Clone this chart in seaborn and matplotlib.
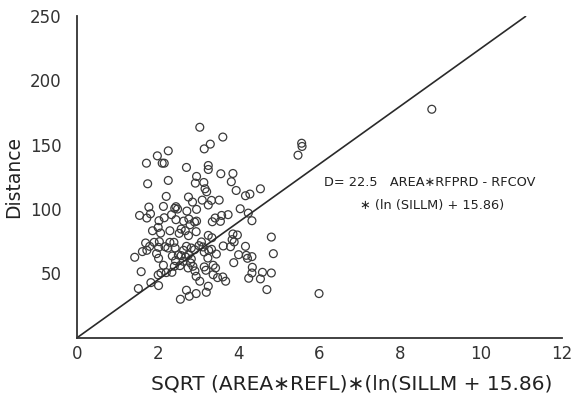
import matplotlib
matplotlib.use("Agg")
import matplotlib.pyplot as plt
import seaborn as sns
import pandas as pd

# ---- data ----
x_vals = [
    3.04, 3.61, 3.30, 3.15, 2.26, 1.99, 2.11, 2.16, 1.72, 2.71, 3.25, 3.25, 2.26, 1.75,
    3.56, 3.86, 3.82, 3.14, 2.96, 2.93, 3.17, 3.21, 3.94, 4.17, 4.28, 4.54, 5.47, 5.56,
    5.57, 8.78, 5.99,
    2.21, 2.76, 2.86, 3.10, 3.33, 3.52, 3.25, 2.96, 2.45, 2.14, 1.78, 1.55, 1.73, 1.82,
    2.42, 2.49, 2.72, 2.34, 2.16, 2.45, 2.64, 2.77, 2.91, 2.96, 2.80, 2.58, 2.68, 2.95,
    1.87, 2.01, 2.07, 2.30, 2.53, 2.76, 4.04, 4.24, 4.33, 3.74, 3.58, 3.55, 3.35, 3.42,
    3.25, 3.34, 2.03,
    3.86, 3.97, 3.84, 3.62, 3.80, 3.89, 4.17, 4.81, 4.86, 4.00, 4.19, 4.33, 4.22, 3.88,
    4.34, 4.59, 4.81, 4.33, 4.25, 4.54, 4.70, 1.43, 1.59, 1.52, 1.83, 2.02, 2.01, 2.08,
    2.21, 1.62, 1.73, 1.70, 1.80, 1.91, 2.04, 2.02, 1.97, 2.02, 2.18, 2.30, 2.25, 2.40,
    2.43, 2.36, 2.51, 2.44, 2.58, 2.64, 2.71, 2.83, 2.91, 3.02, 3.12, 3.08, 3.15, 3.26,
    3.33, 3.24, 3.45, 2.76, 2.69, 2.63, 2.83, 2.81, 2.55, 2.75, 2.87, 2.92, 2.95, 3.04,
    3.19, 3.15, 3.37, 3.43, 3.37, 3.48, 3.61, 3.68, 3.25, 3.20, 2.71, 2.78, 2.95, 2.56,
    2.35, 2.14, 2.41,
]
y_vals = [
    163.6, 156.0, 150.5, 146.8, 145.3, 141.4, 135.7, 135.7, 135.7, 132.4, 133.9, 130.8, 122.3, 119.7,
    127.5, 127.7, 121.3, 120.7, 125.4, 120.2, 115.8, 113.5, 114.5, 110.4, 111.7, 115.8, 141.9, 151.2,
    148.7, 177.6, 34.4,
    109.9, 109.4, 105.5, 107.0, 106.8, 107.0, 103.2, 99.8, 101.9, 102.1, 101.6, 95.1, 93.1, 96.4,
    100.6, 100.1, 98.5, 95.7, 93.3, 91.8, 90.7, 92.3, 90.0, 90.7, 87.9, 84.5, 83.2, 82.5,
    83.2, 85.8, 81.4, 83.2, 81.2, 79.4, 100.3, 96.9, 91.0, 95.7, 95.1, 90.5, 90.2, 93.1,
    79.6, 77.8, 91.0,
    80.7, 79.9, 76.3, 71.4, 70.8, 74.5, 71.1, 78.3, 65.4, 64.6, 64.1, 63.1, 61.8, 58.4,
    54.8, 50.9, 50.4, 50.4, 46.3, 45.8, 37.5, 62.6, 51.4, 38.3, 42.9, 40.6, 48.9, 50.4,
    50.7, 67.0, 68.0, 73.7, 71.1, 74.2, 74.7, 70.3, 65.4, 61.8, 70.8, 74.2, 69.8, 74.2,
    69.8, 63.6, 64.4, 60.0, 63.9, 68.0, 71.1, 69.8, 68.5, 71.6, 70.6, 74.5, 66.7, 68.0,
    68.8, 62.0, 65.1, 64.6, 62.8, 59.5, 61.3, 58.2, 56.1, 54.3, 55.6, 52.0, 47.8, 44.0,
    52.5, 55.1, 56.4, 54.3, 49.1, 46.8, 47.3, 44.0, 40.1, 35.4, 37.0, 32.3, 34.4, 30.0,
    50.9, 56.4, 55.6,
]
fit_x = [0.0, 11.1]
fit_slope = 22.5
x_ticks = [0, 2, 4, 6, 8, 10, 12]
y_ticks = [0, 50, 100, 150, 200, 250]
y_tick_labels = ["", "50", "100", "150", "200", "250"]
x_label = "SQRT (AREA\u2217REFL)\u2217(ln(SILLM + 15.86)"
y_label = "Distance"
note1 = "D= 22.5   AREA\u2217RFPRD - RFCOV"
note2 = "\u2217 (ln (SILLM) + 15.86)"

df = pd.DataFrame({"x": x_vals, "y": y_vals})
fit_df = pd.DataFrame({"x": fit_x, "y": [fit_slope * v for v in fit_x]})

sns.set_style("white")
plt.rcParams["font.family"] = ["DejaVu Sans"]

fig = plt.figure(figsize=(5.74, 4.12), dpi=100)
ax = fig.add_axes([0.134, 0.180, 0.845, 0.781])

sns.lineplot(data=fit_df, x="x", y="y", ax=ax, color="#2a2a2a", linewidth=1.2)
sns.scatterplot(data=df, x="x", y="y", ax=ax, marker="o", s=32,
                facecolor="none", edgecolor="#3a3a3a", linewidth=0.9)

ax.set_xlim(0, 12)
ax.set_ylim(0, 250)
ax.set_xticks(x_ticks)
ax.set_yticks(y_ticks)
ax.set_yticklabels(y_tick_labels)
ax.tick_params(direction="in", length=4, width=1.0, colors="#333333",
               labelsize=12)
ax.tick_params(axis="y", pad=11)
ax.tick_params(axis="x", pad=5)
for s in ["top", "right"]:
    ax.spines[s].set_visible(False)
for s in ["left", "bottom"]:
    ax.spines[s].set_linewidth(1.3)
    ax.spines[s].set_color("#333333")

ax.set_xlabel(x_label, fontsize=14.5, color="#222222")
ax.xaxis.set_label_coords(0.567, -0.115)
ax.set_ylabel(y_label, fontsize=13.5, color="#222222", labelpad=5)
ax.text(6.12, 121, note1, fontsize=9.3, color="#222222", va="center", ha="left")
ax.text(7.0, 103, note2, fontsize=9.3, color="#222222", va="center", ha="left")

fig.savefig("out.png", dpi=100)
